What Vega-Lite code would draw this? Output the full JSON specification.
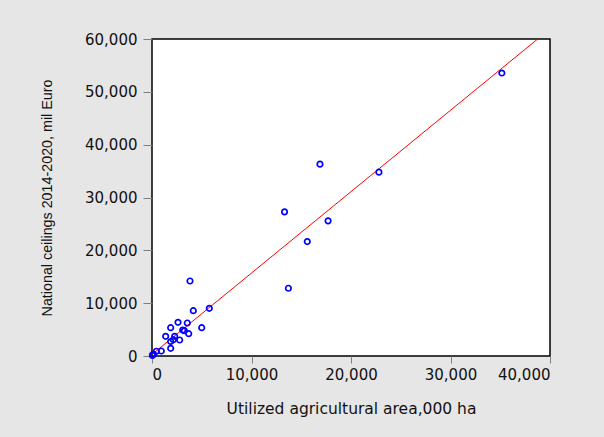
{
  "$schema": "https://vega.github.io/schema/vega-lite/v6.json",
  "width": 398,
  "height": 317,
  "autosize": {"type": "none"},
  "padding": {"left": 152, "top": 39, "right": 54, "bottom": 81},
  "background": "#e6e6e6",
  "config": {
    "view": {"fill": "white", "stroke": "black", "strokeWidth": 1.5},
    "axis": {
      "grid": false,
      "domain": false,
      "tickColor": "#808080",
      "labelFont": "DejaVu Sans",
      "labelFontSize": 15,
      "labelColor": "#111111",
      "titleFont": "DejaVu Sans",
      "titleFontSize": 15.5,
      "titleFontWeight": "normal",
      "titleColor": "#111111"
    }
  },
  "datasets": {
    "pts": [
      {"uaa": 35160, "ceil": 53560},
      {"uaa": 22807, "ceil": 34800},
      {"uaa": 16883, "ceil": 36316},
      {"uaa": 13320, "ceil": 27284},
      {"uaa": 17696, "ceil": 25579},
      {"uaa": 15605, "ceil": 21663},
      {"uaa": 13708, "ceil": 12821},
      {"uaa": 3819, "ceil": 14196},
      {"uaa": 5759, "ceil": 9028},
      {"uaa": 4151, "ceil": 8574},
      {"uaa": 2613, "ceil": 6379},
      {"uaa": 3548, "ceil": 6250},
      {"uaa": 1876, "ceil": 5357},
      {"uaa": 4995, "ceil": 5357},
      {"uaa": 3085, "ceil": 4921},
      {"uaa": 3250, "ceil": 4800},
      {"uaa": 3688, "ceil": 4221},
      {"uaa": 1373, "ceil": 3728},
      {"uaa": 2278, "ceil": 3728},
      {"uaa": 2780, "ceil": 3028},
      {"uaa": 2144, "ceil": 3085},
      {"uaa": 1876, "ceil": 2750},
      {"uaa": 1876, "ceil": 1457},
      {"uaa": 935, "ceil": 946},
      {"uaa": 432, "ceil": 900},
      {"uaa": 171, "ceil": 322},
      {"uaa": 40, "ceil": 100},
      {"uaa": 60, "ceil": 250}
    ],
    "fit": [
      {"uaa": 0, "ceil": 300},
      {"uaa": 38760, "ceil": 60000}
    ]
  },
  "layer": [
    {
      "data": {"name": "fit"},
      "mark": {"type": "line", "color": "#ff0000", "strokeWidth": 1, "clip": true},
      "encoding": {
        "x": {"field": "uaa", "type": "quantitative"},
        "y": {"field": "ceil", "type": "quantitative"}
      }
    },
    {
      "data": {"name": "pts"},
      "mark": {"type": "point", "shape": "circle", "filled": false, "color": "#0000ff", "size": 30, "strokeWidth": 1.7, "opacity": 1},
      "encoding": {
        "x": {
          "field": "uaa",
          "type": "quantitative",
          "scale": {"domain": [0, 40000], "nice": false, "zero": true},
          "axis": {
            "title": "Utilized agricultural area,000 ha",
            "values": [0, 10000, 20000, 30000, 40000],
            "format": ",d",
            "tickSize": 7,
            "labelPadding": 4,
            "titlePadding": 19
          }
        },
        "y": {
          "field": "ceil",
          "type": "quantitative",
          "scale": {"domain": [0, 60000], "nice": false, "zero": true},
          "axis": {
            "title": "National ceilings 2014-2020, mil Euro",
            "titleFont": "Liberation Sans",
            "titleFontSize": 14.3,
            "values": [0, 10000, 20000, 30000, 40000, 50000, 60000],
            "format": ",d",
            "tickSize": 9,
            "labelPadding": 6,
            "titlePadding": 30
          }
        }
      }
    }
  ]
}
